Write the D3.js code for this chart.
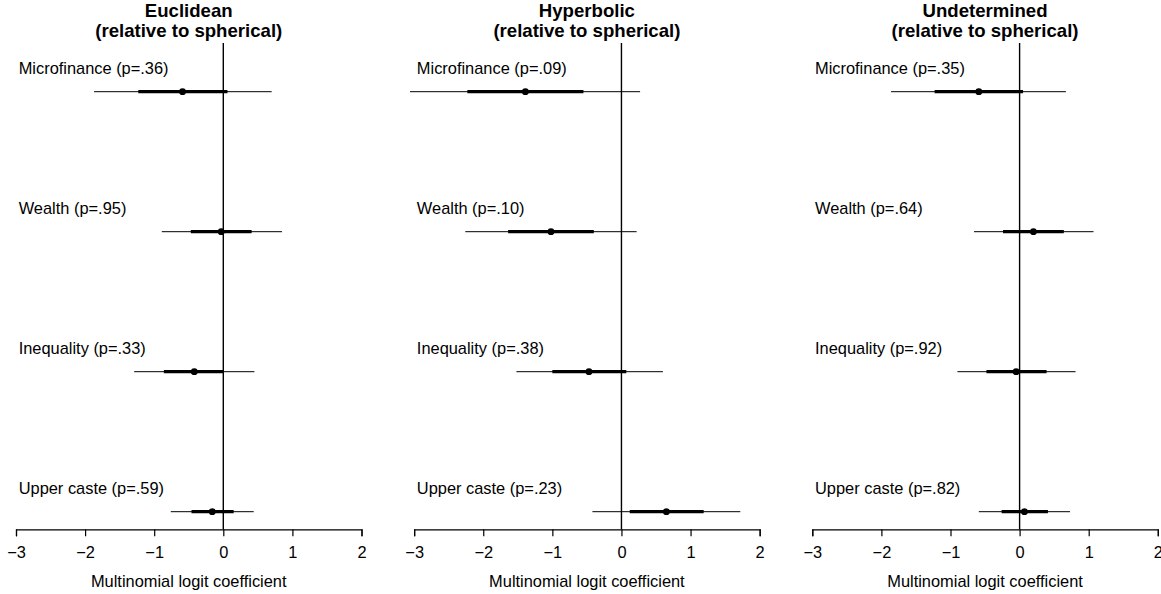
<!DOCTYPE html>
<html>
<head>
<meta charset="utf-8">
<script src="https://cdn.jsdelivr.net/npm/d3@7"></script>
<style>
  html, body { margin: 0; padding: 0; background: #fff; }
  svg { display: block; font-family: "Liberation Sans", Arial, Helvetica, sans-serif; }
</style>
</head>
<body>
<svg id="chart" width="1161" height="594"></svg>
<script>
// ---- data ----
const panelTitles = ["Euclidean", "Hyperbolic", "Undetermined"];
const subtitle = "(relative to spherical)";
const variables = ["Microfinance", "Wealth", "Inequality", "Upper caste"];
const tickValues = [-3, -2, -1, 0, 1, 2];
const xLabel = "Multinomial logit coefficient";

// p-values per panel (rows follow variables)
const pEuclidean    = [".36", ".95", ".33", ".59"];
const pHyperbolic   = [".09", ".10", ".38", ".23"];
const pUndetermined = [".35", ".64", ".92", ".82"];

// point estimates
const estEuclidean    = [-0.59, -0.03, -0.42, -0.16];
const estHyperbolic   = [-1.39, -1.02, -0.47, 0.65];
const estUndetermined = [-0.59, 0.20, -0.05, 0.07];

// inner (thick) interval
const innerLoEuclidean    = [-1.23, -0.47, -0.86, -0.46];
const innerHiEuclidean    = [0.06, 0.41, 0.01, 0.15];
const innerLoHyperbolic   = [-2.23, -1.64, -1.00, 0.12];
const innerHiHyperbolic   = [-0.55, -0.40, 0.07, 1.19];
const innerLoUndetermined = [-1.23, -0.24, -0.48, -0.26];
const innerHiUndetermined = [0.05, 0.64, 0.39, 0.41];

// outer (thin) interval
const outerLoEuclidean    = [-1.87, -0.89, -1.29, -0.76];
const outerHiEuclidean    = [0.70, 0.85, 0.45, 0.44];
const outerLoHyperbolic   = [-3.06, -2.26, -1.52, -0.42];
const outerHiHyperbolic   = [0.27, 0.22, 0.60, 1.72];
const outerLoUndetermined = [-1.86, -0.66, -0.90, -0.59];
const outerHiUndetermined = [0.67, 1.07, 0.81, 0.73];

const panels = [
  {title: panelTitles[0], p: pEuclidean, est: estEuclidean, ilo: innerLoEuclidean, ihi: innerHiEuclidean, olo: outerLoEuclidean, ohi: outerHiEuclidean},
  {title: panelTitles[1], p: pHyperbolic, est: estHyperbolic, ilo: innerLoHyperbolic, ihi: innerHiHyperbolic, olo: outerLoHyperbolic, ohi: outerHiHyperbolic},
  {title: panelTitles[2], p: pUndetermined, est: estUndetermined, ilo: innerLoUndetermined, ihi: innerHiUndetermined, olo: outerLoUndetermined, ohi: outerHiUndetermined}
];

// ---- layout ----
const svg = d3.select("#chart");
const panelStart = 16, panelStep = 398.15, panelW = 345.5;
const plotTop = 43, axisY = 529.3;
const y = d3.scalePoint().domain(variables).range([91.7, 511.7]);
const fs = 16.4;

panels.forEach((pd, i) => {
  const x0 = panelStart + i * panelStep;
  const x = d3.scaleLinear().domain([-3, 2]).range([x0, x0 + panelW]);
  const g = svg.append("g");
  const cx = x(-0.5);

  // titles
  g.append("text").attr("x", cx).attr("y", 16.7).attr("text-anchor", "middle")
    .attr("font-weight", "bold").attr("font-size", 18.6).text(pd.title);
  g.append("text").attr("x", cx).attr("y", 37.3).attr("text-anchor", "middle")
    .attr("font-weight", "bold").attr("font-size", 18.6).text(subtitle);

  // zero line
  g.append("line").attr("x1", x(0)).attr("x2", x(0)).attr("y1", plotTop).attr("y2", axisY)
    .attr("stroke", "#000").attr("stroke-width", 1.4);

  // axis
  const axis = d3.axisBottom(x).tickValues(tickValues).tickSize(7).tickPadding(9.6)
    .tickFormat(d => d < 0 ? "\u2212" + Math.abs(d) : String(d));
  const ag = g.append("g").attr("transform", `translate(0,${axisY})`).call(axis);
  ag.select(".domain").attr("stroke", "#000").attr("stroke-width", 1.2);
  ag.selectAll(".tick line").attr("stroke", "#000").attr("stroke-width", 1.2);
  ag.selectAll(".tick text").attr("font-size", fs).attr("fill", "#000")
    .attr("font-family", "Liberation Sans, Arial, sans-serif");

  g.append("text").attr("x", cx).attr("y", 587.2).attr("text-anchor", "middle")
    .attr("font-size", fs).text(xLabel);

  variables.forEach((v, j) => {
    const yy = y(v);
    g.append("text").attr("x", x0 + 2.7).attr("y", yy - 18).attr("font-size", fs)
      .text(`${v} (p=${pd.p[j]})`);
    g.append("line").attr("x1", x(pd.olo[j])).attr("x2", x(pd.ohi[j]))
      .attr("y1", yy).attr("y2", yy).attr("stroke", "#000").attr("stroke-width", 1);
    g.append("line").attr("x1", x(pd.ilo[j])).attr("x2", x(pd.ihi[j]))
      .attr("y1", yy).attr("y2", yy).attr("stroke", "#000").attr("stroke-width", 3.2);
    g.append("circle").attr("cx", x(pd.est[j])).attr("cy", yy).attr("r", 3.4).attr("fill", "#000");
  });
});
</script>
</body>
</html>
